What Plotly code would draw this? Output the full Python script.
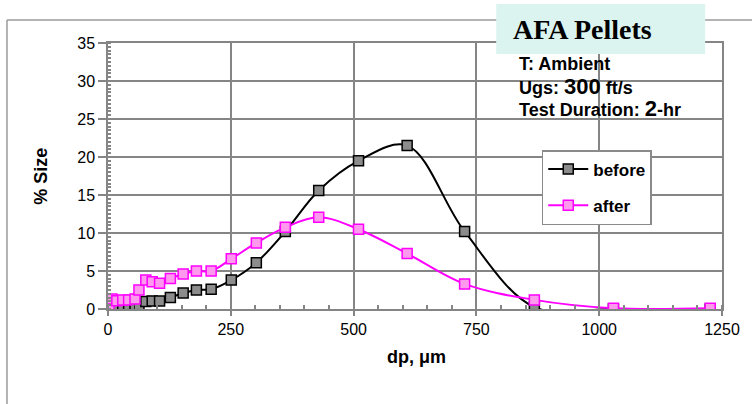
import plotly.graph_objects as go

# Data
dp = [2, 8, 18, 30, 42, 55, 63, 77, 90, 105, 127, 153, 180, 210, 251, 302,
      361, 429, 510, 609, 726, 868, 1029, 1226]
before = [0.0, 0.0, 0.0, 0.05, 0.1, 0.2, 0.4, 1.0, 1.05, 1.05, 1.5, 2.1, 2.5, 2.6,
          3.8, 6.1, 10.2, 15.6, 19.5, 21.5, 10.2, 0.25, 0.0, 0.0]
after = [0.2, 1.3, 1.1, 1.2, 1.2, 1.3, 2.5, 3.8, 3.6, 3.4, 4.0, 4.6, 5.0, 5.0,
         6.6, 8.7, 10.75, 12.07, 10.5, 7.3, 3.3, 1.2, 0.1, 0.1]
x_ticks = [0, 250, 500, 750, 1000, 1250]
y_ticks = [0, 5, 10, 15, 20, 25, 30, 35]

FONT = "Liberation Sans, Arial, sans-serif"

fig = go.Figure()
fig.add_trace(go.Scatter(
    x=dp, y=before, name="<b>before</b>", mode="lines+markers",
    line=dict(color="black", width=2, shape="spline", smoothing=1.0),
    marker=dict(symbol="square", size=10, color="#8c8c8c",
                line=dict(color="black", width=1.5)),
    legendgroup="a"))
fig.add_trace(go.Scatter(
    x=dp, y=after, name="<b>after</b>", mode="lines+markers",
    line=dict(color="#ff00ff", width=2, shape="spline", smoothing=1.0),
    marker=dict(symbol="square", size=10, color="#ff99ee",
                line=dict(color="#ff00ff", width=1.5)),
    legendgroup="b"))

grid = "#858585"
fig.update_xaxes(
    range=[0, 1250], tickvals=x_ticks, ticktext=[str(v) for v in x_ticks],
    showgrid=True, gridcolor=grid, gridwidth=1.5,
    showline=True, linecolor=grid, linewidth=1.5, mirror=True,
    ticks="outside", ticklen=5, tickcolor=grid, tickwidth=1.5,
    minor=dict(dtick=50, ticks="inside", ticklen=4, tickcolor=grid, showgrid=False),
    zeroline=False,
    tickfont=dict(family=FONT, size=16, color="black"))
fig.update_yaxes(
    range=[0, 35], tickvals=y_ticks, ticktext=[str(v) for v in y_ticks],
    showgrid=True, gridcolor=grid, gridwidth=1.5,
    showline=True, linecolor=grid, linewidth=1.5, mirror=True,
    ticks="outside", ticklen=8, tickcolor=grid, tickwidth=1.5,
    minor=dict(dtick=0.5, ticks="inside", ticklen=3, tickcolor=grid, showgrid=False),
    zeroline=False,
    tickfont=dict(family=FONT, size=16, color="black"))

L, R, T, B = 108, 24, 43, 95
W, H = 752, 404
pw, ph = W - L - R, H - T - B

def px(xp):
    return (xp - L) / pw

def py(yp):
    return (H - B - yp) / ph

shapes = [
    dict(type="line", xref="paper", yref="paper", x0=px(6), x1=px(6), y0=py(20), y1=py(420),
         line=dict(color="#9a9a9a", width=1.5), layer="above"),
    dict(type="line", xref="paper", yref="paper", x0=px(6), x1=px(760), y0=py(20), y1=py(20),
         line=dict(color="#9a9a9a", width=1.5), layer="above"),
    dict(type="rect", xref="paper", yref="paper", x0=px(500), x1=px(711), y0=py(54), y1=py(4),
         fillcolor="#dbf4f0", line=dict(width=0), layer="above"),
]

annotations = [
    dict(text="<b>AFA Pellets</b>", xref="paper", yref="paper", x=px(515), y=py(30),
         xanchor="left", yanchor="middle", showarrow=False,
         font=dict(family="Liberation Serif, Times New Roman, serif", size=28, color="black")),
    dict(text="<b>T: Ambient</b>", xref="paper", yref="paper", x=px(521), y=py(64),
         xanchor="left", yanchor="middle", showarrow=False,
         font=dict(family=FONT, size=18, color="black")),
    dict(text="<b>Ugs: <span style='font-size:22px'>300</span> ft/s</b>", xref="paper", yref="paper",
         x=px(521), y=py(86), xanchor="left", yanchor="middle", showarrow=False,
         font=dict(family=FONT, size=18, color="black")),
    dict(text="<b>Test Duration: <span style='font-size:22px'>2</span>-hr</b>", xref="paper", yref="paper",
         x=px(521), y=py(108), xanchor="left", yanchor="middle", showarrow=False,
         font=dict(family=FONT, size=18, color="black")),
    dict(text="<b>% Size</b>", xref="paper", yref="paper", x=px(40), y=py(176),
         xanchor="center", yanchor="middle", showarrow=False, textangle=-90,
         font=dict(family=FONT, size=18, color="black")),
    dict(text="<b>dp, μm</b>", xref="paper", yref="paper", x=px(420), y=py(357),
         xanchor="center", yanchor="middle", showarrow=False,
         font=dict(family=FONT, size=18, color="black")),
]

fig.update_layout(
    width=W, height=H,
    margin=dict(l=L, r=R, t=T, b=B),
    paper_bgcolor="white", plot_bgcolor="white",
    shapes=shapes, annotations=annotations,
    showlegend=True,
    legend=dict(x=px(546), y=py(150), xanchor="left", yanchor="top",
                bgcolor="white", bordercolor="#8a8a8a", borderwidth=1.5,
                traceorder="grouped", tracegroupgap=11,
                font=dict(family=FONT, size=17, color="black"),
                itemwidth=40),
)

fig.write_html("out.html")
